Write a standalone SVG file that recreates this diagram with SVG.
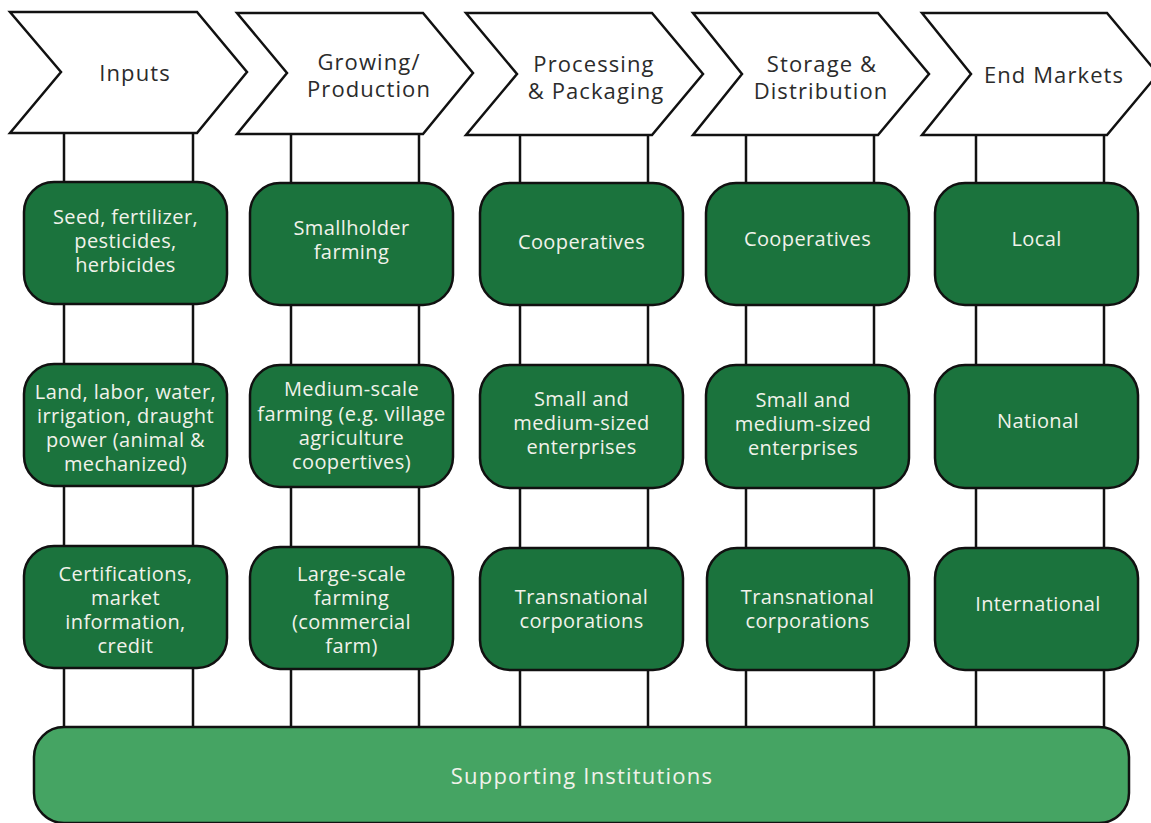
<svg xmlns="http://www.w3.org/2000/svg" width="1151" height="823" viewBox="0 0 1151 823">
  <style>
    .stage { fill: #ffffff; stroke: #111111; stroke-width: 2.5; stroke-linejoin: miter; }
    .stage-label { font-family: "Open Sans", "Noto Sans", sans-serif; font-size: 22px; letter-spacing: 1.1px; fill: #2b2b2b; text-anchor: middle; dominant-baseline: central; }
    .actor { fill: #1b733d; stroke: #111111; stroke-width: 2.5; }
    .actor-label { font-family: "Open Sans", "Noto Sans", sans-serif; font-size: 20px; letter-spacing: 0.4px; fill: #f1f2ea; text-anchor: middle; dominant-baseline: central; }
    .support { fill: #45a463; stroke: #111111; stroke-width: 2.5; }
    .support-label { font-family: "Open Sans", "Noto Sans", sans-serif; font-size: 22px; letter-spacing: 1.2px; fill: #f1f2ea; text-anchor: middle; dominant-baseline: central; }
    .link { stroke: #111111; stroke-width: 2.5; fill: none; }
  </style>

  <rect width="1151" height="823" fill="#ffffff"/>

  <!-- vertical rails joining each stage to its actors and to the base bar -->
  <g id="connectors">
    <line class="link" x1="64" y1="133" x2="64" y2="728"/>
    <line class="link" x1="193" y1="133" x2="193" y2="728"/>
    <line class="link" x1="291" y1="134" x2="291" y2="728"/>
    <line class="link" x1="419" y1="134" x2="419" y2="728"/>
    <line class="link" x1="520" y1="135" x2="520" y2="728"/>
    <line class="link" x1="648" y1="135" x2="648" y2="728"/>
    <line class="link" x1="746" y1="135" x2="746" y2="728"/>
    <line class="link" x1="874" y1="135" x2="874" y2="728"/>
    <line class="link" x1="976" y1="135" x2="976" y2="728"/>
    <line class="link" x1="1104" y1="135" x2="1104" y2="728"/>
  </g>

  <!-- value chain stages -->
  <g id="stage-inputs">
    <polygon class="stage" points="10,12 197,12 247,72 197,133 10,133 61,72"/>
    <text class="stage-label" x="135" y="72">Inputs</text>
  </g>
  <g id="stage-growing">
    <polygon class="stage" points="237,13 423,13 473,73 423,134 237,134 287,73"/>
    <text class="stage-label" x="369" y="61">Growing/</text>
    <text class="stage-label" x="369" y="88">Production</text>
  </g>
  <g id="stage-processing">
    <polygon class="stage" points="466,13 652,13 703,74 652,135 466,135 517,74"/>
    <text class="stage-label" x="594" y="63">Processing</text>
    <text class="stage-label" x="596" y="90">&amp; Packaging</text>
  </g>
  <g id="stage-storage">
    <polygon class="stage" points="693,13 878,13 929,74 878,135 693,135 742,74"/>
    <text class="stage-label" x="822" y="63">Storage &amp;</text>
    <text class="stage-label" x="821" y="90">Distribution</text>
  </g>
  <g id="stage-markets">
    <polygon class="stage" points="922,13 1107,13 1158,74 1107,135 922,135 971,74"/>
    <text class="stage-label" x="1054" y="74">End Markets</text>
  </g>

  <!-- Inputs column -->
  <g id="inputs-1">
    <rect class="actor" x="24" y="182" width="203" height="122" rx="30"/>
    <text class="actor-label" x="125.5" y="216">Seed, fertilizer,</text>
    <text class="actor-label" x="125.5" y="240">pesticides,</text>
    <text class="actor-label" x="125.5" y="264">herbicides</text>
  </g>
  <g id="inputs-2">
    <rect class="actor" x="24" y="364" width="203" height="122" rx="30"/>
    <text class="actor-label" x="125.5" y="391">Land, labor, water,</text>
    <text class="actor-label" x="125.5" y="415">irrigation, draught</text>
    <text class="actor-label" x="125.5" y="439">power (animal &amp;</text>
    <text class="actor-label" x="125.5" y="463">mechanized)</text>
  </g>
  <g id="inputs-3">
    <rect class="actor" x="24" y="546" width="203" height="122" rx="30"/>
    <text class="actor-label" x="125.5" y="573">Certifications,</text>
    <text class="actor-label" x="125.5" y="597">market</text>
    <text class="actor-label" x="125.5" y="621">information,</text>
    <text class="actor-label" x="125.5" y="645">credit</text>
  </g>

  <!-- Growing / Production column -->
  <g id="growing-1">
    <rect class="actor" x="250" y="183" width="203" height="122" rx="30"/>
    <text class="actor-label" x="351.5" y="227">Smallholder</text>
    <text class="actor-label" x="351.5" y="251">farming</text>
  </g>
  <g id="growing-2">
    <rect class="actor" x="250" y="365" width="203" height="122" rx="30"/>
    <text class="actor-label" x="351.5" y="388">Medium-scale</text>
    <text class="actor-label" x="351.5" y="413">farming (e.g. village</text>
    <text class="actor-label" x="351.5" y="437">agriculture</text>
    <text class="actor-label" x="351.5" y="461">coopertives)</text>
  </g>
  <g id="growing-3">
    <rect class="actor" x="250" y="547" width="203" height="122" rx="30"/>
    <text class="actor-label" x="351.5" y="573">Large-scale</text>
    <text class="actor-label" x="351.5" y="597">farming</text>
    <text class="actor-label" x="351.5" y="621">(commercial</text>
    <text class="actor-label" x="351.5" y="645">farm)</text>
  </g>

  <!-- Processing & Packaging column -->
  <g id="processing-1">
    <rect class="actor" x="480" y="183" width="203" height="122" rx="30"/>
    <text class="actor-label" x="581.5" y="241">Cooperatives</text>
  </g>
  <g id="processing-2">
    <rect class="actor" x="480" y="365" width="203" height="123" rx="30"/>
    <text class="actor-label" x="581.5" y="398">Small and</text>
    <text class="actor-label" x="581.5" y="422">medium-sized</text>
    <text class="actor-label" x="581.5" y="446">enterprises</text>
  </g>
  <g id="processing-3">
    <rect class="actor" x="480" y="548" width="203" height="122" rx="30"/>
    <text class="actor-label" x="581.5" y="596">Transnational</text>
    <text class="actor-label" x="581.5" y="620">corporations</text>
  </g>

  <!-- Storage & Distribution column -->
  <g id="storage-1">
    <rect class="actor" x="706" y="183" width="203" height="122" rx="30"/>
    <text class="actor-label" x="807.5" y="238">Cooperatives</text>
  </g>
  <g id="storage-2">
    <rect class="actor" x="706" y="365" width="203" height="123" rx="30"/>
    <text class="actor-label" x="803" y="399">Small and</text>
    <text class="actor-label" x="803" y="423">medium-sized</text>
    <text class="actor-label" x="803" y="447">enterprises</text>
  </g>
  <g id="storage-3">
    <rect class="actor" x="707" y="548" width="202" height="122" rx="30"/>
    <text class="actor-label" x="807.5" y="596">Transnational</text>
    <text class="actor-label" x="807.5" y="620">corporations</text>
  </g>

  <!-- End Markets column -->
  <g id="markets-1">
    <rect class="actor" x="935" y="183" width="203" height="122" rx="30"/>
    <text class="actor-label" x="1036.5" y="238">Local</text>
  </g>
  <g id="markets-2">
    <rect class="actor" x="935" y="365" width="203" height="123" rx="30"/>
    <text class="actor-label" x="1038" y="420">National</text>
  </g>
  <g id="markets-3">
    <rect class="actor" x="935" y="548" width="203" height="122" rx="30"/>
    <text class="actor-label" x="1038" y="603">International</text>
  </g>

  <!-- base bar -->
  <g id="supporting-institutions">
    <rect class="support" x="34" y="727" width="1095" height="96" rx="30"/>
    <text class="support-label" x="582" y="775">Supporting Institutions</text>
  </g>
</svg>
